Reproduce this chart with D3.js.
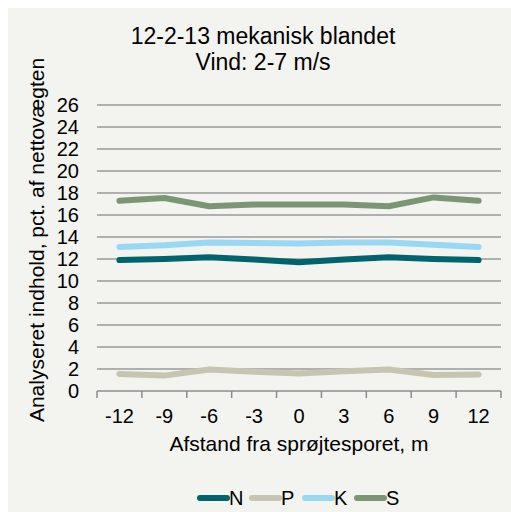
<!DOCTYPE html>
<html>
<head>
<meta charset="utf-8">
<script src="https://cdn.jsdelivr.net/npm/d3@7"></script>
<style>
  body { margin: 0; background: #fff; }
  text { font-family: "Liberation Sans", Arial, sans-serif; fill: #000; }
</style>
</head>
<body>
<div class="vis-linechart"></div>
<script>
// afstand fra sprøjtesporet (m)
const categories = ["-12", "-9", "-6", "-3", "0", "3", "6", "9", "12"];
const seriesNames = ["N", "P", "K", "S"];
const N = [11.9, 12.0, 12.15, 11.95, 11.7, 11.95, 12.15, 12.0, 11.9];
const P = [1.55, 1.4, 1.95, 1.75, 1.6, 1.8, 1.95, 1.45, 1.5];
const K = [13.1, 13.25, 13.5, 13.45, 13.4, 13.5, 13.5, 13.3, 13.1];
const S = [17.3, 17.55, 16.8, 16.95, 16.95, 16.95, 16.8, 17.6, 17.3];
const yTicks = [0, 2, 4, 6, 8, 10, 12, 14, 16, 18, 20, 22, 24, 26];
const colors = ["#00646f", "#c5c5b0", "#99d8f5", "#7b9673"];

const W = 511, H = 512;
const margin = {top: 105, right: 10, bottom: 121, left: 97};
const width = W - margin.left - margin.right;
const height = H - margin.top - margin.bottom;

const svg = d3.select('.vis-linechart').append('svg')
    .attr('width', W)
    .attr('height', H);

// chart background
svg.append('rect')
    .attr('x', 8).attr('y', 8)
    .attr('width', W - 8).attr('height', H - 8)
    .attr('fill', '#f3f3ef');

const g = svg.append('g')
    .attr('transform', 'translate(' + margin.left + ',' + margin.top + ')');

const x = d3.scaleBand().domain(categories).range([0, width]);
const y = d3.scaleLinear().domain([0, 26]).range([height, 0]);

// gridlines
g.selectAll('.grid')
    .data(yTicks.filter(d => d > 0))
    .enter()
    .append('line')
    .attr('x1', 0).attr('x2', width)
    .attr('y1', d => y(d)).attr('y2', d => y(d))
    .attr('stroke', '#9a9a9a')
    .attr('stroke-width', 1.5);

// y axis labels
const yAxis = g.append('g')
    .call(d3.axisLeft(y).tickValues(yTicks).tickSize(0).tickPadding(18));
yAxis.select('.domain').remove();
yAxis.selectAll('text')
    .style('font-size', '20px')
    .style('font-family', '"Liberation Sans", Arial, sans-serif')
    .attr('fill', '#000');

// x axis with ticks at band edges
const xAxisG = g.append('g').attr('transform', 'translate(0,' + height + ')');
xAxisG.append('line')
    .attr('x1', 0).attr('x2', width)
    .attr('stroke', '#8c8c8c').attr('stroke-width', 1.5);
const edges = categories.map(c => x(c)).concat([width]);
xAxisG.selectAll('.tk')
    .data(edges)
    .enter()
    .append('line')
    .attr('x1', d => d).attr('x2', d => d)
    .attr('y1', 0).attr('y2', 7)
    .attr('stroke', '#8c8c8c').attr('stroke-width', 1.5);
xAxisG.selectAll('.lbl')
    .data(categories)
    .enter()
    .append('text')
    .attr('x', d => x(d) + x.bandwidth() / 2)
    .attr('y', 32)
    .attr('text-anchor', 'middle')
    .style('font-size', '20px')
    .text(d => d);

// lines
const allSeries = [N, P, K, S];
const line = d3.line()
    .x((d, i) => x(categories[i]) + x.bandwidth() / 2)
    .y(d => y(d));

allSeries.forEach(function(s, i) {
    g.append('path')
        .datum(s)
        .attr('d', line)
        .attr('fill', 'none')
        .attr('stroke', colors[i])
        .attr('stroke-width', 6)
        .attr('stroke-linecap', 'round')
        .attr('stroke-linejoin', 'round');
});

// titles
svg.append('text').attr('x', 263).attr('y', 44)
    .attr('text-anchor', 'middle').style('font-size', '23px')
    .text('12-2-13 mekanisk blandet');
svg.append('text').attr('x', 263).attr('y', 70)
    .attr('text-anchor', 'middle').style('font-size', '23px')
    .text('Vind: 2-7 m/s');

svg.append('text')
    .attr('transform', 'translate(44,240) rotate(-90)')
    .attr('text-anchor', 'middle').style('font-size', '21px')
    .text('Analyseret indhold, pct. af nettovægten');

svg.append('text').attr('x', 299).attr('y', 451)
    .attr('text-anchor', 'middle').style('font-size', '21px')
    .text('Afstand fra sprøjtesporet, m');

// legend
const legendX = [200, 252, 305, 357];
const legend = svg.append('g');
seriesNames.forEach(function(name, i) {
    legend.append('line')
        .attr('x1', legendX[i]).attr('x2', legendX[i] + 27)
        .attr('y1', 498).attr('y2', 498)
        .attr('stroke', colors[i])
        .attr('stroke-width', 6)
        .attr('stroke-linecap', 'round');
    legend.append('text')
        .attr('x', legendX[i] + 29).attr('y', 505)
        .style('font-size', '20px')
        .text(name);
});
</script>
</body>
</html>
